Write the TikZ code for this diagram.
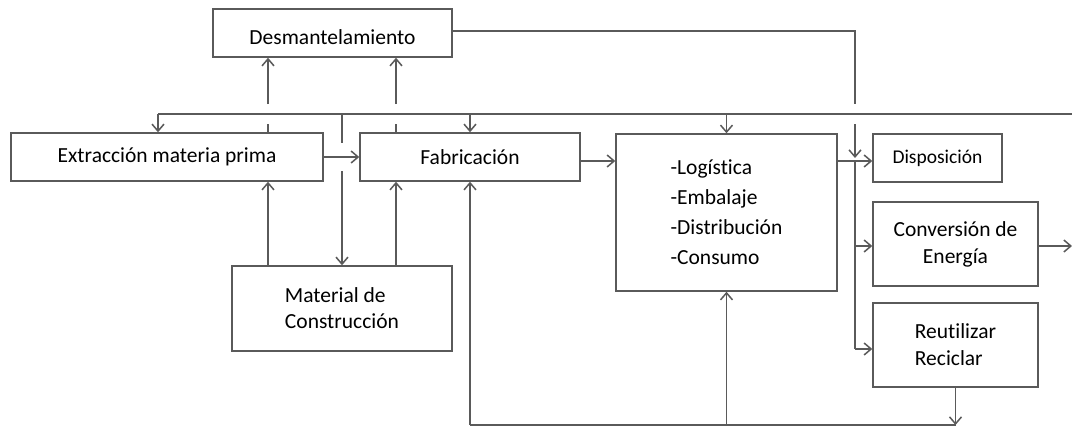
\documentclass[tikz,border=0pt]{standalone}
\usepackage{fontspec}
\setmainfont{Carlito}[Ligatures=NoCommon]
\usetikzlibrary{arrows.meta}
\definecolor{linegray}{HTML}{5A5A5A}
\begin{document}
\begin{tikzpicture}[x=1pt,y=-1pt,
  box/.style={draw=linegray,line width=1.5pt,inner sep=0pt,
    font=\fontsize{21.5}{30}\selectfont,align=center},
  link/.style={draw=linegray,line width=1.5pt},
  arr/.style={link,-{Straight Barb[length=7pt,width=12pt,line width=1.5pt]}}]
\useasboundingbox[fill=white] (0,0) rectangle (1072,426);

% process boxes
\node[box,minimum width=239pt,minimum height=48pt,text height=22pt,text depth=0pt] (desm) at (332.5,33) {Desmantelamiento};
\node[box,minimum width=312pt,minimum height=48pt] (extr) at (167,157) {Extracción materia prima};
\node[box,minimum width=220pt,minimum height=48pt] (fab) at (470,157) {Fabricación};
\node[box,minimum width=221pt,minimum height=157pt,align=left] (log) at (726.5,212.5)
  {-Logística\\-Embalaje\\-Distribución\\-Consumo};
\node[box,minimum width=129pt,minimum height=48pt,font=\fontsize{19.5}{22}\selectfont] (disp) at (937.5,158)
  {\raisebox{3pt}{Disposición}};
\node[box,minimum width=165pt,minimum height=84pt,font=\fontsize{21.5}{27}\selectfont] (conv) at (955.5,244) {Conversión de\\Energía};
\node[box,minimum width=165pt,minimum height=84pt,align=left,font=\fontsize{21.5}{27}\selectfont] (reut) at (955.5,345) {Reutilizar\\Reciclar};
\node[box,minimum width=220pt,minimum height=85pt,align=left,font=\fontsize{21.5}{26}\selectfont] (mat) at (342,308.5) {Material de\\Construcción};

% free ends and bends
\coordinate (busR) at (1072,114);
\coordinate (busL) at (158,114);
\coordinate (dcorner) at (855,31);
\coordinate (djoin) at (855,161);
\coordinate (dend) at (855,349);
\coordinate (bR) at (955.5,425);
\coordinate (bL) at (470,425);
\coordinate (outE) at (1072,246);

% upper return bus
\draw[link] (busR) -- (busL);
\draw[arr] (busL) -- (extr.north -| busL);
\draw[arr] (fab.north |- busL) -- (fab.north);
\draw[arr] (log.north |- busL) -- (log.north);
\draw[link] (342,114) -- (342,143);
\draw[arr] (342,171) -- (mat.north);

% building material feeds
\draw[arr] (mat.north -| 268,0) -- (extr.south -| 268,0);
\draw[arr] (mat.north -| 396,0) -- (fab.south -| 396,0);

% flows up to dismantling (hopping over the bus)
\draw[link] (extr.north -| 268,0) -- (268,124);
\draw[arr] (268,104) -- (desm.south -| 268,0);
\draw[link] (fab.north -| 396,0) -- (396,124);
\draw[arr] (396,104) -- (desm.south -| 396,0);

% main chain
\draw[arr] (extr.east) -- (fab.west);
\draw[arr] ([yshift=-4pt]fab.east) -- ([yshift=-4pt]fab.east -| log.west);
\draw[arr] (log.east |- djoin) -- (djoin -| disp.west);

% dismantling to end of life
\draw[link] (desm.east |- dcorner) -- (dcorner) -- (855,104);
\draw[arr] (855,124) -- (855,158);
\draw[link] (djoin) -- (dend);
\draw[arr] (855,246) -- (conv.west |- 0,246);
\draw[arr] (dend) -- (reut.west |- dend);
\draw[arr] (conv.east |- outE) -- (outE);

% recycling loop
\draw[arr] (reut.south) -- (bR);
\draw[link] (bR) -- (bL);
\draw[arr] (bL) -- (fab.south);
\draw[arr] (log.south |- bR) -- (log.south);
\end{tikzpicture}
\end{document}
